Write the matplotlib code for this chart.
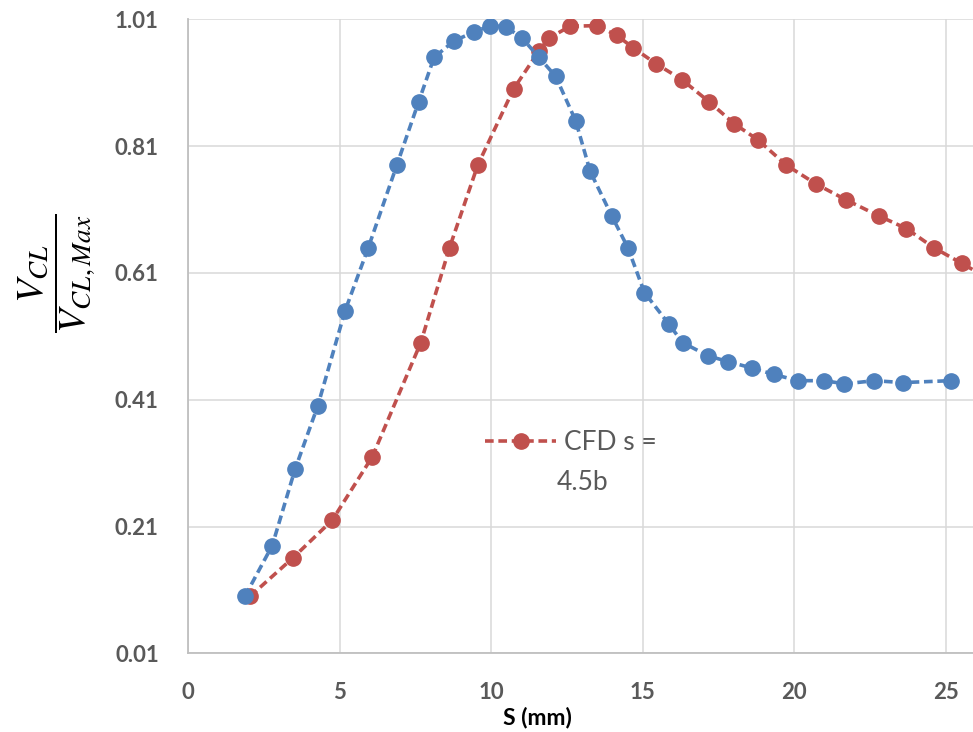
import matplotlib
matplotlib.use("Agg")
import matplotlib.pyplot as plt
import numpy as np

# blue series (no legend entry)
blue_x = [1.88, 2.78, 3.53, 4.28, 5.18, 5.95, 6.89, 7.61, 8.12, 8.78, 9.44, 9.97,
          10.5, 11.03, 11.58, 12.13, 12.79, 13.27, 13.98, 14.51, 15.06, 15.87, 16.32,
          17.17, 17.83, 18.6, 19.32, 20.12, 21.0, 21.66, 22.65, 23.58, 25.17]
blue_y = [0.10, 0.18, 0.30, 0.40, 0.55, 0.65, 0.78, 0.88, 0.95, 0.976, 0.99, 1.0,
          0.998, 0.98, 0.95, 0.92, 0.85, 0.77, 0.70, 0.65, 0.579, 0.529, 0.50,
          0.479, 0.47, 0.46, 0.45, 0.44, 0.44, 0.435, 0.44, 0.437, 0.44]

# CFD s = 4.5b
red_x = [2.05, 3.45, 4.76, 6.08, 7.68, 8.63, 9.56, 10.74, 11.58, 11.9, 12.6, 13.48,
         14.14, 14.69, 15.44, 16.29, 17.19, 18.03, 18.8, 19.74, 20.73, 21.72, 22.79,
         23.70, 24.6, 25.53, 26.45]
red_y = [0.10, 0.16, 0.22, 0.32, 0.50, 0.65, 0.78, 0.90, 0.96, 0.98, 0.999, 1.0,
         0.985, 0.965, 0.94, 0.915, 0.88, 0.845, 0.82, 0.78, 0.75, 0.725, 0.70,
         0.68, 0.65, 0.625, 0.60]

x_ticks = [0, 5, 10, 15, 20, 25]
y_ticks = [0.01, 0.21, 0.41, 0.61, 0.81, 1.01]

BLUE = "#4f81bd"
RED = "#c0504d"
GREY = "#595959"

plt.rcParams["font.family"] = ["Lato", "DejaVu Sans"]
plt.rcParams["mathtext.fontset"] = "stix"

fig = plt.figure(figsize=(9.73, 7.32), dpi=100)
ax = fig.add_axes([188 / 973, 1 - 653.3 / 732, 1 - 188 / 973, (653.3 - 19.3) / 732])

style = dict(linestyle=(0, (2.4, 1.3)), linewidth=2.6, marker="o", markersize=11)
ax.plot(red_x, red_y, color=RED, label="CFD s =", zorder=3, **style)
ax.plot(blue_x, blue_y, color=BLUE, zorder=4, **style)

ax.set_xlim(0, 25.9)
ax.set_ylim(0.01, 1.01)
ax.set_xticks(x_ticks)
ax.set_yticks(y_ticks)
ax.set_yticklabels(["%.2f" % v for v in y_ticks])
ax.tick_params(length=0, labelsize=16, labelcolor=GREY, pad=21)
for lab in ax.get_xticklabels() + ax.get_yticklabels():
    lab.set_fontweight("bold")

ax.grid(True, color="#d9d9d9", linewidth=1.1)
ax.set_axisbelow(True)
for side in ["top", "right"]:
    ax.spines[side].set_visible(False)
for side in ["left", "bottom"]:
    ax.spines[side].set_color("#bfbfbf")
    ax.spines[side].set_linewidth(1.3)

ax.set_xlabel("S (mm)", fontsize=16.5, fontweight="bold", color="black")
ax.xaxis.set_label_coords((537 - 188) / 785, (653.3 - 717) / 634)
ax.xaxis.label.set_va("center")

ax.set_ylabel(r"$\dfrac{V_{CL}}{V_{CL,Max}}$", fontsize=28, color="black")
ax.yaxis.set_label_coords((57 - 188) / 785, (653.3 - 273) / 634)
ax.yaxis.label.set_va("center")
ax.yaxis.label.set_ha("center")

leg = ax.legend(loc="center left", bbox_to_anchor=(472 / 973, 1 - 443 / 732),
                bbox_transform=fig.transFigure, frameon=False, fontsize=19,
                handlelength=2.7, handletextpad=0.3, borderpad=0)
for t in leg.get_texts():
    t.set_color(GREY)
fig.text(557 / 973, 1 - 482 / 732, "4.5b", fontsize=19, color=GREY, va="center", ha="left")

fig.savefig("out.png", dpi=100)
